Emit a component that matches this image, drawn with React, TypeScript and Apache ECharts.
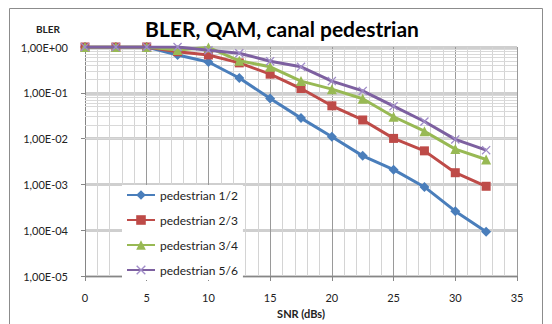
import React, { useEffect, useRef } from "react";
import * as echarts from "echarts";

const snr = [0, 2.5, 5, 7.5, 10, 12.5, 15, 17.5, 20, 22.5, 25, 27.5, 30, 32.5];
const ped12 = [1, 1, 1, 0.67, 0.47, 0.21, 0.075, 0.028, 0.011, 0.0042, 0.0021, 0.00088, 0.00026, 0.000093];
const ped23 = [1, 1, 1, 0.79, 0.67, 0.45, 0.255, 0.124, 0.052, 0.0255, 0.0101, 0.0054, 0.0018, 0.00091];
const ped34 = [1, 1, 1, 0.86, 0.98, 0.5, 0.37, 0.18, 0.12, 0.074, 0.03, 0.0145, 0.0059, 0.0035];
const ped56 = [1, 1, 1, 1, 0.85, 0.73, 0.49, 0.37, 0.18, 0.11, 0.051, 0.0236, 0.0096, 0.0056];

const seriesNames = ["pedestrian 1/2", "pedestrian 2/3", "pedestrian 3/4", "pedestrian 5/6"];
const colors = ["#4a7ebb", "#be4b48", "#98b954", "#7d60a0"];
const title = "BLER, QAM, canal pedestrian";
const yName = "BLER";
const xName = "SNR (dBs)";

const FONT = "Lato, 'Open Sans', sans-serif";
const X_SYMBOL = "path://M0,1 L1,0 L5,4 L9,0 L10,1 L6,5 L10,9 L9,10 L5,6 L1,10 L0,9 L4,5 Z";

function fmtExp(v: number): string {
  const e = Math.round(Math.log10(v));
  const a = Math.abs(e);
  return "1,00E" + (e >= 0 ? "+" : "-") + (a < 10 ? "0" + a : "" + a);
}

export default function App() {
  const ref = useRef<HTMLDivElement>(null);
  useEffect(() => {
    document.body.style.margin = "0";
    const chart = echarts.init(ref.current!, null, { renderer: "svg" });
    const all = [ped12, ped23, ped34, ped56];
    const symbols = ["diamond", "rect", "triangle", X_SYMBOL];
    const sizes = [10, 9, 10, 9];
    const minorVals: number[] = [];
    for (let k = -5; k < 0; k++) {
      for (let m = 2; m <= 9; m++) minorVals.push(m * Math.pow(10, k));
    }
    const series: any[] = all.map((d, i) => ({
      name: seriesNames[i],
      type: "line",
      data: snr.map((x, j) => [x, d[j]]),
      symbol: symbols[i],
      symbolSize: sizes[i],
      showAllSymbol: true,
      z: 3 + i,
      lineStyle: { color: colors[i], width: 3 },
      itemStyle: { color: i === 3 ? "#a08cc8" : colors[i] },
    }));
    series.push({
      type: "line",
      data: [],
      z: 1,
      silent: true,
      markLine: {
        silent: true,
        z: 1,
        zlevel: 0,
        symbol: ["none", "none"],
        label: { show: false },
        lineStyle: { color: "#d9d9d9", width: 1, type: "solid" },
        data: minorVals.map((v) => ({ yAxis: v })),
      },
    });
    chart.setOption({
      animation: false,
      textStyle: { fontFamily: FONT },
      grid: { left: 85, right: 35, top: 47, bottom: 41 },
      xAxis: {
        type: "value",
        min: 0,
        max: 35,
        interval: 5,
        name: xName,
        nameLocation: "middle",
        nameGap: 32,
        nameTextStyle: { fontSize: 11, fontWeight: "bold", color: "#222", fontFamily: FONT },
        axisLine: { lineStyle: { color: "#868686" } },
        axisTick: { show: true, length: 5, lineStyle: { color: "#868686" } },
        axisLabel: { fontSize: 11, color: "#222", margin: 16, fontFamily: FONT },
        splitLine: { show: true, lineStyle: { color: "#9a9a9a", width: 1 } },
        minorTick: { show: false, splitNumber: 5 },
        minorSplitLine: { show: true, lineStyle: { color: "#d4d4d4", width: 1 } },
      },
      yAxis: {
        type: "log",
        logBase: 10,
        min: 0.00001,
        max: 1,
        axisLine: { show: true, lineStyle: { color: "#868686" } },
        axisTick: { show: true, length: 4, lineStyle: { color: "#868686" } },
        axisLabel: { fontSize: 11, color: "#222", margin: 17, formatter: (v: number) => fmtExp(v), fontFamily: FONT },
        splitLine: { show: true, lineStyle: { color: "#cfcfcf", width: 3 } },
      },
      legend: {
        data: seriesNames,
        orient: "vertical",
        left: 122,
        top: 185,
        backgroundColor: "#ffffff",
        padding: [4, 5, 4, 4],
        itemWidth: 28,
        itemHeight: 12,
        itemGap: 13,
        textStyle: { fontSize: 12, color: "#222", fontFamily: FONT },
      },
      graphic: [
        {
          type: "rect",
          shape: { x: 9.5, y: 8.5, width: 533, height: 330 },
          style: { fill: "none", stroke: "#8c8c8c", lineWidth: 1 },
          silent: true,
        },
        {
          type: "text",
          x: 282,
          y: 28,
          style: {
            text: title,
            fontSize: 21,
            fontWeight: "bold",
            fontFamily: FONT,
            fill: "#000",
            textAlign: "center",
            textVerticalAlign: "middle",
          },
        },
        {
          type: "text",
          x: 48,
          y: 29,
          style: {
            text: yName,
            fontSize: 10,
            fontWeight: "bold",
            fontFamily: FONT,
            fill: "#222",
            textAlign: "center",
            textVerticalAlign: "middle",
          },
        },
      ],
      series,
    });
    return () => chart.dispose();
  }, []);
  return <div ref={ref} style={{ width: 552, height: 324 }} />;
}
